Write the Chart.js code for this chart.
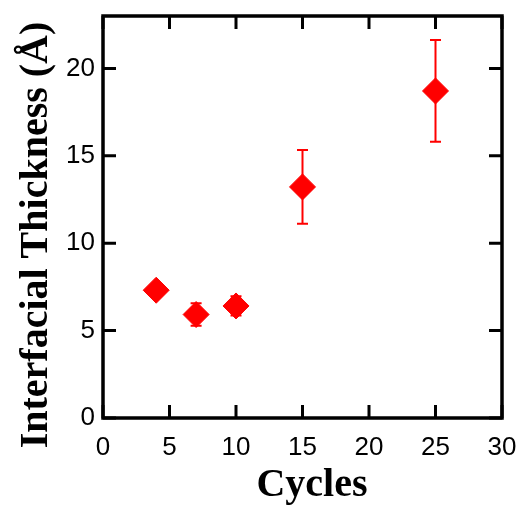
<!DOCTYPE html>
<html>
<head>
<meta charset="utf-8">
<script src="https://cdn.jsdelivr.net/npm/chart.js@4"></script>
<style>
  html, body { margin: 0; padding: 0; background: #ffffff; }
  canvas { display: block; }
</style>
</head>
<body>
<canvas id="c" width="523" height="506"></canvas>
<script>
// ---- data ----
const cycles = [4, 7, 10, 15, 25];
const thickness = [7.31, 5.92, 6.41, 13.22, 18.71];
const thicknessErr = [0.2, 0.64, 0.55, 2.11, 2.91];
const xTickValues = [0, 5, 10, 15, 20, 25, 30];
const yTickValues = [0, 5, 10, 15, 20];
const xTitle = 'Cycles';
const yTitle = 'Interfacial Thickness (Å)';

const RED = '#ff0000';
const tickFont = { family: "'Liberation Sans', Arial, sans-serif", size: 26 };
const titleFontCss = "bold 40px 'Liberation Serif', 'Times New Roman', serif";

const framePlugin = {
  id: 'frame',
  afterDraw(chart) {
    const { ctx, chartArea: a, scales } = chart;
    ctx.save();
    ctx.strokeStyle = '#000';
    ctx.lineWidth = 3.5;
    ctx.lineCap = 'butt';
    ctx.strokeRect(a.left, a.top, a.right - a.left, a.bottom - a.top);
    const tl = 13;
    ctx.lineWidth = 3;
    ctx.beginPath();
    scales.x.ticks.forEach(t => {
      const px = scales.x.getPixelForValue(t.value);
      ctx.moveTo(px, a.bottom); ctx.lineTo(px, a.bottom - tl);
      ctx.moveTo(px, a.top); ctx.lineTo(px, a.top + tl);
    });
    scales.y.ticks.forEach(t => {
      const py = scales.y.getPixelForValue(t.value);
      ctx.moveTo(a.left, py); ctx.lineTo(a.left + tl, py);
      ctx.moveTo(a.right, py); ctx.lineTo(a.right - tl, py);
    });
    ctx.stroke();

    // axis titles
    ctx.fillStyle = '#000';
    ctx.font = titleFontCss;
    ctx.textAlign = 'center';
    ctx.textBaseline = 'alphabetic';
    ctx.fillText(xTitle, 312, 496);
    ctx.translate(47, 235);
    ctx.rotate(-Math.PI / 2);
    ctx.fillText(yTitle, 0, 0);
    ctx.restore();
  }
};

const errorBarPlugin = {
  id: 'errorBars',
  beforeDatasetsDraw(chart) {
    const { ctx, scales } = chart;
    const cap = 5.5;
    ctx.save();
    ctx.strokeStyle = RED;
    ctx.lineWidth = 2;
    ctx.beginPath();
    cycles.forEach((c, i) => {
      const px = scales.x.getPixelForValue(c);
      const yTop = scales.y.getPixelForValue(thickness[i] + thicknessErr[i]);
      const yBot = scales.y.getPixelForValue(thickness[i] - thicknessErr[i]);
      ctx.moveTo(px, yTop); ctx.lineTo(px, yBot);
      ctx.moveTo(px - cap, yTop); ctx.lineTo(px + cap, yTop);
      ctx.moveTo(px - cap, yBot); ctx.lineTo(px + cap, yBot);
    });
    ctx.stroke();
    ctx.restore();
  }
};

function zeroPad(s) { s.paddingTop = 0; s.paddingBottom = 0; s.paddingLeft = 0; s.paddingRight = 0; }

new Chart(document.getElementById('c'), {
  type: 'scatter',
  data: {
    datasets: [{
      data: cycles.map((c, i) => ({ x: c, y: thickness[i] })),
      pointStyle: 'rectRot',
      pointRadius: 13,
      pointHoverRadius: 13,
      backgroundColor: RED,
      borderColor: RED,
      borderWidth: 1,
      showLine: false
    }]
  },
  options: {
    responsive: false,
    animation: false,
    events: [],
    layout: { padding: { top: 16, right: 21, left: 0, bottom: 0 } },
    plugins: { legend: { display: false }, tooltip: { enabled: false } },
    scales: {
      x: {
        type: 'linear', min: 0, max: 30,
        afterBuildTicks: s => { s.ticks = xTickValues.map(v => ({ value: v })); },
        afterFit: s => { s.height = 88; zeroPad(s); },
        grid: { display: false, drawTicks: false },
        border: { display: false },
        ticks: { color: '#000', font: tickFont, padding: 14, maxRotation: 0, autoSkip: false },
        title: { display: false }
      },
      y: {
        type: 'linear', min: 0, max: 23,
        afterBuildTicks: s => { s.ticks = yTickValues.map(v => ({ value: v })); },
        afterFit: s => { s.width = 103; zeroPad(s); },
        grid: { display: false, drawTicks: false },
        border: { display: false },
        ticks: { color: '#000', font: tickFont, padding: 8, autoSkip: false },
        title: { display: false }
      }
    }
  },
  plugins: [errorBarPlugin, framePlugin]
});
</script>
</body>
</html>
